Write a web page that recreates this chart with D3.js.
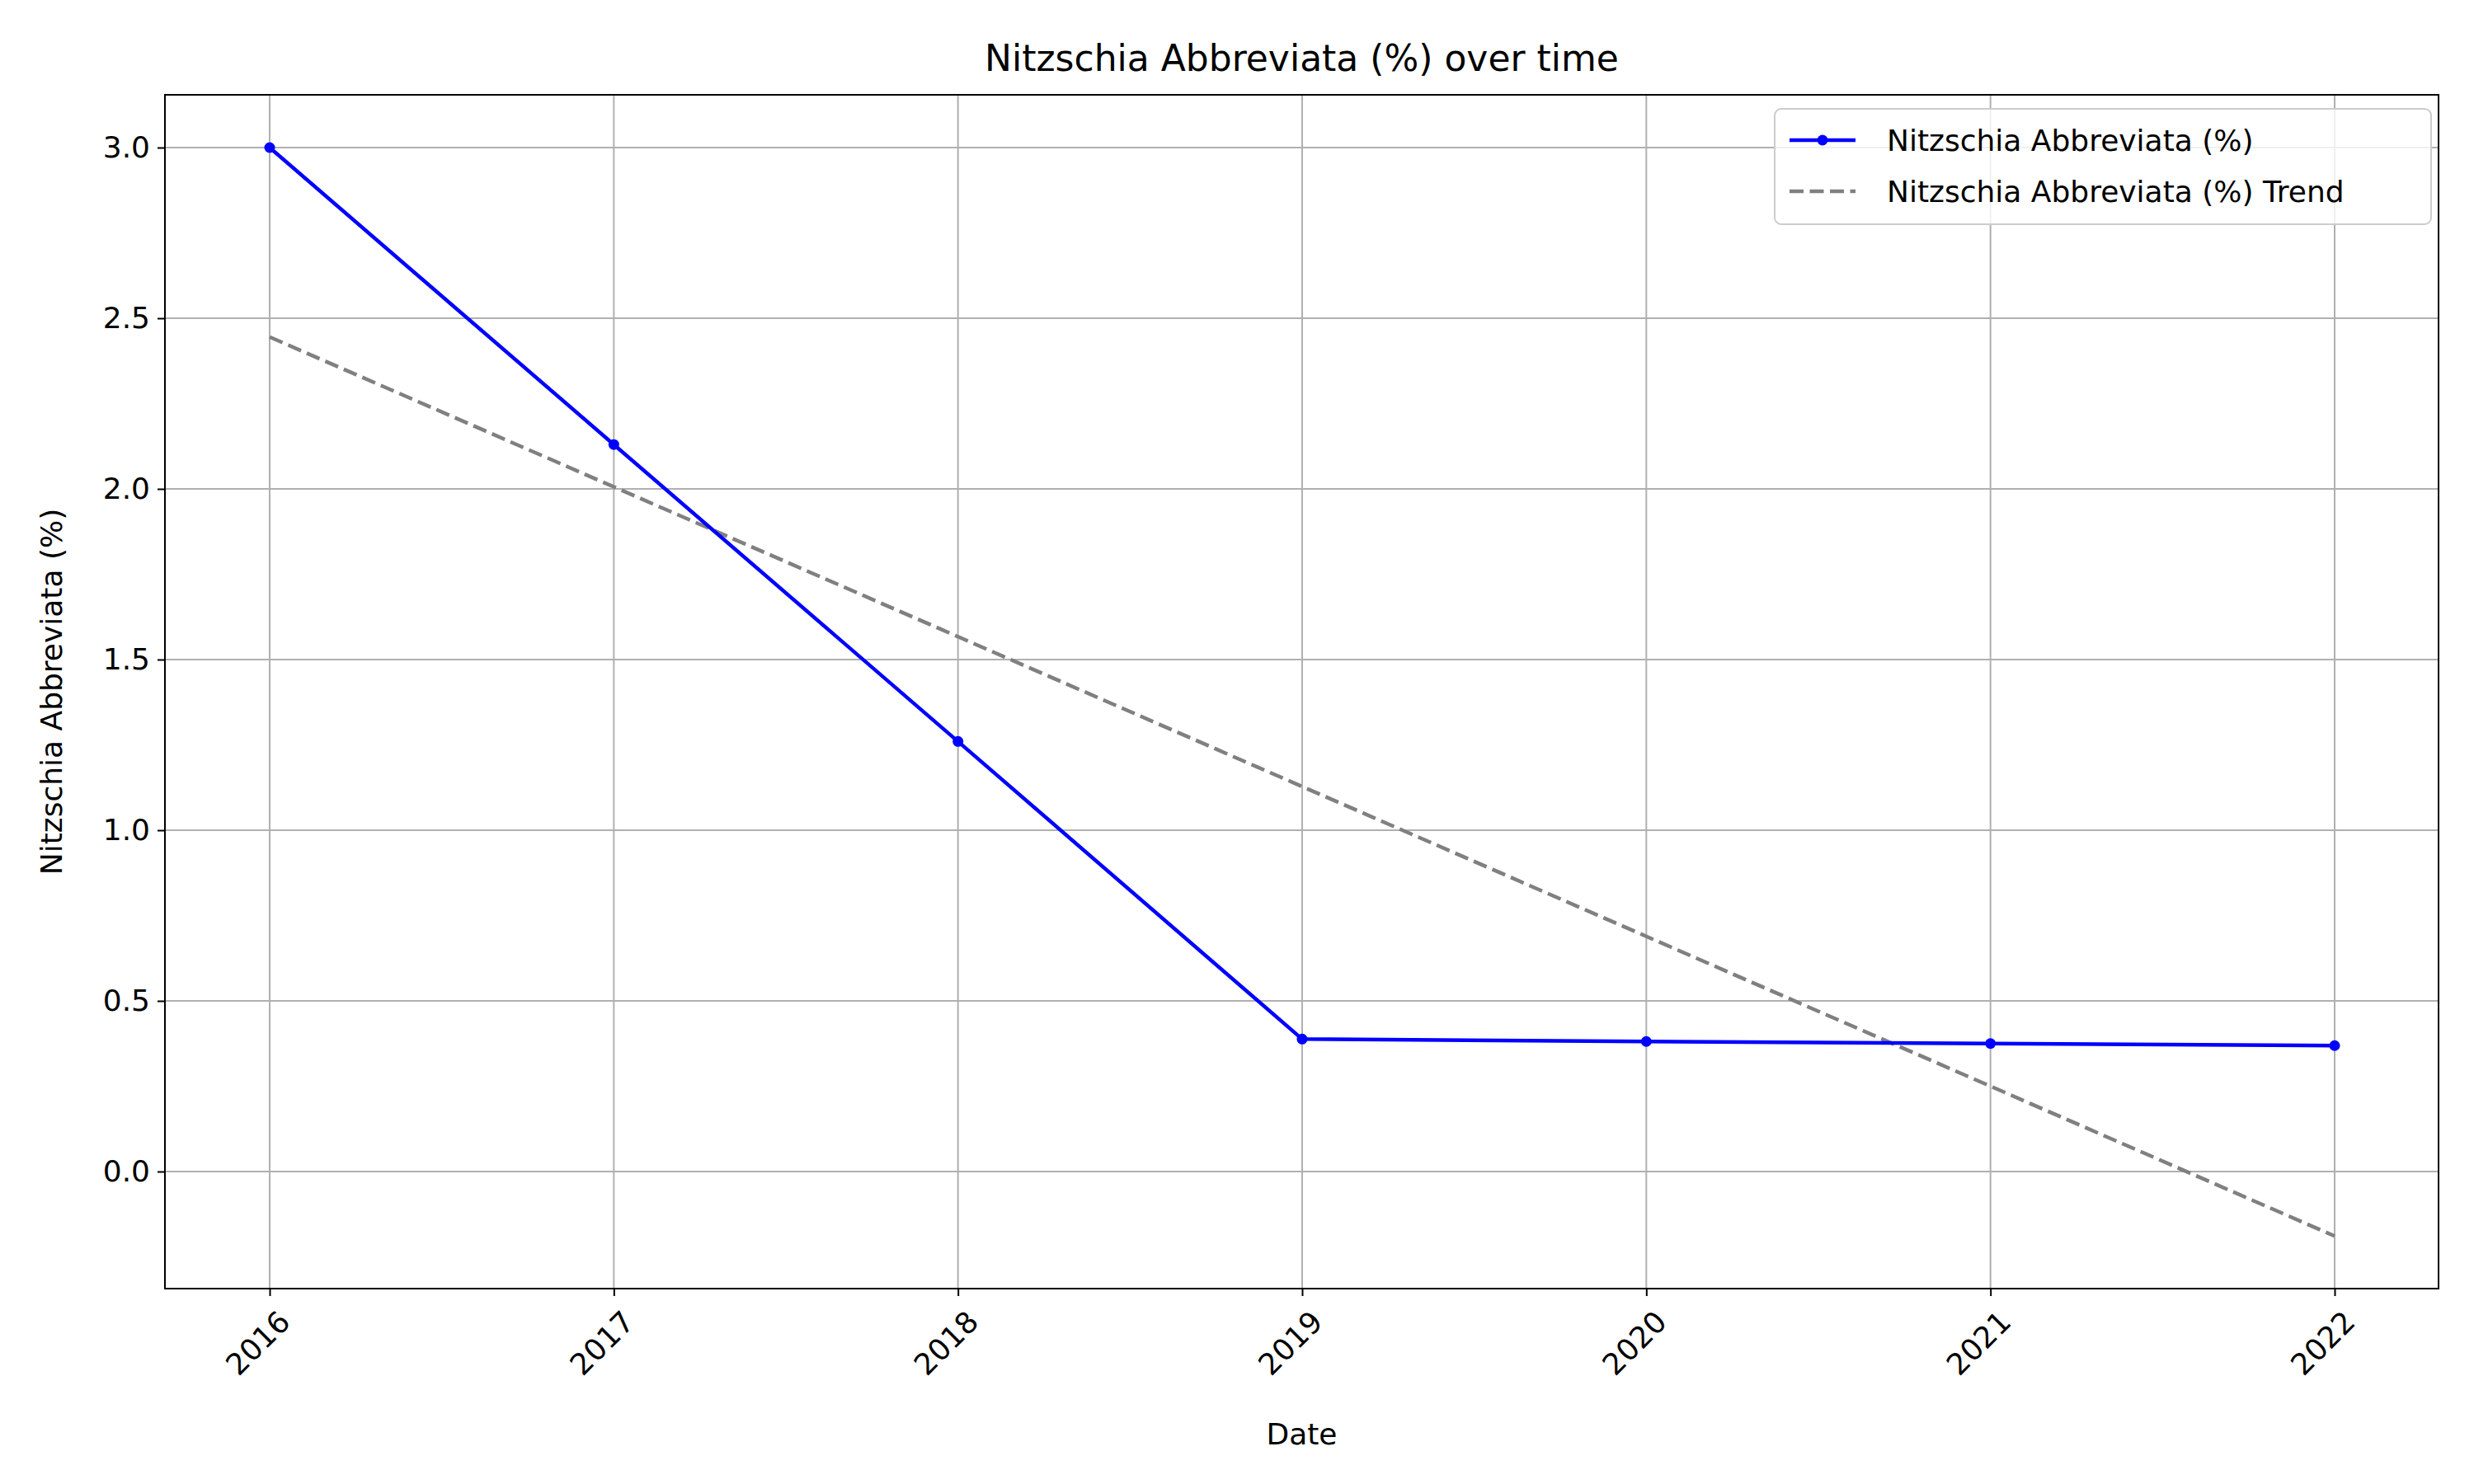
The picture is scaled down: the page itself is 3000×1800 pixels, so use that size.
<!DOCTYPE html><html><head><meta charset="utf-8"><script src="https://cdn.jsdelivr.net/npm/d3@7"></script>
<style>body{margin:0;background:#fff}text{font-family:"DejaVu Sans";}</style></head><body><svg id="c" width="3000" height="1800"></svg>
<script>
const years=[2016,2017,2018,2019,2020,2021,2022];
const values=[3.0,2.13,1.26,0.388,0.381,0.375,0.369];
const trend=[2.445,2.006,1.567,1.128,0.689,0.250,-0.189];
const yTicks=[0.0,0.5,1.0,1.5,2.0,2.5,3.0];
const L=200,R=2957,T=115,B=1563;
const svg=d3.select("#c");
const x=d3.scaleLinear().domain([2016,2022]).range([327,2831]);
const y=d3.scaleLinear().domain([0,3]).range([1421,179]);
const g=svg.append("g");
g.selectAll(".gx").data(years).join("line").attr("x1",d=>x(d)).attr("x2",d=>x(d)).attr("y1",T).attr("y2",B).attr("stroke","#b0b0b0").attr("stroke-width",2);
g.selectAll(".gy").data(yTicks).join("line").attr("x1",L).attr("x2",R).attr("y1",d=>y(d)).attr("y2",d=>y(d)).attr("stroke","#b0b0b0").attr("stroke-width",2);
const ln=d3.line().x((d,i)=>x(years[i])).y(d=>y(d));
svg.append("path").attr("d",ln(trend)).attr("fill","none").attr("stroke","gray").attr("stroke-width",4.5).attr("stroke-dasharray","17,7.5");
svg.append("path").attr("d",ln(values)).attr("fill","none").attr("stroke","blue").attr("stroke-width",4.5);
svg.selectAll(".pt").data(values).join("circle").attr("cx",(d,i)=>x(years[i])).attr("cy",d=>y(d)).attr("r",6.5).attr("fill","blue");
svg.append("rect").attr("x",L).attr("y",T).attr("width",R-L).attr("height",B-T).attr("fill","none").attr("stroke","#000").attr("stroke-width",2);
const ax=svg.append("g").attr("transform",`translate(0,${B})`).call(d3.axisBottom(x).tickValues(years).tickFormat(d3.format("d")).tickSize(9).tickSizeOuter(0));
ax.select(".domain").remove();
ax.selectAll("line").attr("stroke-width",2);
ax.selectAll("text").attr("font-size",36).attr("text-anchor","end").attr("dy",0).attr("transform","translate(18,34) rotate(-45)");
const ay=svg.append("g").attr("transform",`translate(${L},0)`).call(d3.axisLeft(y).tickValues(yTicks).tickFormat(d3.format(".1f")).tickSize(9));
ay.select(".domain").remove();
ay.selectAll("line").attr("stroke-width",2);
ay.selectAll("text").attr("font-size",36).attr("x",-18);
svg.append("text").attr("x",(L+R)/2).attr("y",86).attr("text-anchor","middle").attr("font-size",44).text("Nitzschia Abbreviata (%) over time");
svg.append("text").attr("x",(L+R)/2).attr("y",1752).attr("text-anchor","middle").attr("font-size",36).text("Date");
svg.append("text").attr("transform",`translate(75,${(T+B)/2}) rotate(-90)`).attr("text-anchor","middle").attr("font-size",36).text("Nitzschia Abbreviata (%)");
const lg=svg.append("g");
lg.append("rect").attr("x",2152).attr("y",132).attr("width",796).attr("height",140).attr("rx",8).attr("fill","#fff").attr("fill-opacity",0.8).attr("stroke","#ccc").attr("stroke-width",2);
lg.append("line").attr("x1",2170).attr("x2",2250).attr("y1",170).attr("y2",170).attr("stroke","blue").attr("stroke-width",4.5);
lg.append("circle").attr("cx",2210).attr("cy",170).attr("r",6.5).attr("fill","blue");
lg.append("line").attr("x1",2170).attr("x2",2250).attr("y1",232).attr("y2",232).attr("stroke","gray").attr("stroke-width",4.5).attr("stroke-dasharray","17,7.5");
lg.append("text").attr("x",2288).attr("y",183).attr("font-size",36).text("Nitzschia Abbreviata (%)");
lg.append("text").attr("x",2288).attr("y",245).attr("font-size",36).text("Nitzschia Abbreviata (%) Trend");
</script></body></html>
